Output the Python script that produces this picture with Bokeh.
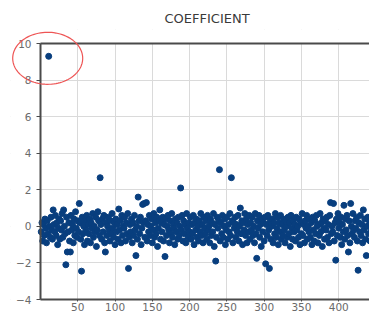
import numpy as np
from bokeh.plotting import figure
from bokeh.models import (ColumnDataSource, PolyAnnotation, BoxAnnotation, FixedTicker,
                          Range1d, LinearAxis)
from bokeh.embed import file_html
from bokeh.resources import INLINE

title_text = "COEFFICIENT"
x_ticks = [50, 100, 150, 200, 250, 300, 350, 400, 450]
y_ticks = [-4, -2, 0, 2, 4, 6, 8, 10]

coef = [
    -0.3, 0.2, -0.8, 0.1, -0.5, 0.4, -0.1, -0.9, 0.3, -0.4, 9.3, 0.0, -0.6, 0.5, -0.2, -0.7, 0.9, 0.1, -0.3, 0.6,
    -0.5, 0.2, -1.0, -0.1, 0.4, -0.7, 0.3, -0.2, 0.7, -0.6, 0.9, 0.0, -0.4, -2.1, 0.5, -1.4, -0.3, 0.2, -0.8, -1.4,
    0.6, -0.2, 0.1, -0.9, 0.4, -0.5, 0.8, -0.1, -0.6, 0.3, -0.3, 1.25, 0.2, -0.7, -2.45, 0.5, -0.4, 0.0, -1.0, 0.3,
    -0.2, 0.6, -0.8, 0.1, -0.4, 0.4, -0.9, 0.2, -0.1, 0.7, -0.6, 0.0, -0.3, 0.5, -1.1, -0.2, 0.8, 0.3, -0.5, 2.66,
    0.1, -0.7, 0.4, -0.3, 0.6, -0.9, -1.4, 0.2, -0.5, 0.0, 0.5, -0.2, -0.8, 0.3, -0.4, 0.7, -0.1, -0.6, 0.2, -1.0,
    0.4, -0.3, 0.1, -0.7, 0.95, -0.2, 0.3, -0.9, 0.6, -0.5, 0.0, -0.1, 0.5, -0.8, 0.2, -0.4, 0.7, -2.3, -0.6, 0.1,
    -0.3, 0.4, -0.9, 0.2, -0.5, 0.6, -0.2, -1.6, 0.0, -0.7, 1.6, 0.3, -0.4, 0.5, -1.0, -0.1, 1.2, 0.2, 1.25, -0.6,
    0.3, 1.3, -0.8, 0.1, -0.3, 0.6, -0.5, 0.0, 0.4, -0.9, -0.2, 0.7, -0.6, 0.2, -0.4, 0.5, -1.1, -0.1, 0.3, 0.9,
    -0.7, 0.2, -0.3, 0.5, -0.8, 0.1, -1.65, 0.4, -0.5, 0.0, 0.6, -0.2, -0.9, 0.3, -0.4, 0.7, -0.6, 0.1, -0.1, -1.0,
    0.4, -0.3, 0.2, -0.7, 0.5, -0.5, 0.0, 2.1, -0.2, 0.6, -0.8, 0.3, -0.4, 0.1, -0.9, 0.7, -0.1, -0.6, 0.2, -0.3,
    0.5, -0.7, 0.1, -0.4, 0.6, -1.0, 0.2, -0.2, 0.4, -0.6, 0.0, -0.8, 0.3, -0.3, 0.7, -0.5, 0.1, -0.9, 0.5, -0.1,
    -0.4, 0.3, -0.7, 0.6, -0.2, 0.0, -0.9, 0.4, -0.5, 0.2, -0.3, 0.7, -1.1, 0.1, -1.9, -0.6, 0.5, -0.1, 0.3, 3.1,
    -0.8, 0.2, -0.4, 0.6, -0.6, 0.0, 0.4, -1.0, -0.2, 0.5, -0.7, 0.1, -0.3, 0.7, -0.5, 2.66, 0.3, -0.9, 0.2, -0.1,
    0.5, -0.6, 0.1, -0.3, 0.6, -0.8, 0.0, 1.0, -0.4, 0.3, -1.0, 0.2, -0.2, 0.7, -0.5, 0.4, -0.9, 0.1, -0.3, 0.6,
    -0.7, 0.2, -0.2, 0.5, -0.5, 0.0, -0.9, 0.7, -0.4, -1.75, 0.3, -0.1, 0.6, -0.6, 0.1, -1.1, 0.4, -0.3, 0.2, -0.8,
    0.5, -2.05, 0.1, -0.5, 0.6, -0.2, -2.3, 0.3, -0.7, 0.0, 0.4, -0.9, 0.2, -0.4, 0.7, -0.6, -0.1, 0.5, -1.0, 0.2,
    -0.3, 0.6, -0.7, 0.1, -0.5, 0.4, -0.2, -0.9, 0.3, 0.0, -0.6, 0.5, -0.4, 0.2, -1.1, 0.6, -0.1, -0.7, 0.3, -0.3,
    0.1, -0.8, 0.5, -0.2, 0.0, -0.6, 0.4, -1.0, 0.2, -0.4, 0.7, -0.5, 0.1, -0.9, 0.3, -0.1, 0.6, -0.7, 0.0, -0.3,
    0.4, -0.6, 0.2, -1.0, 0.5, -0.2, -0.8, 0.3, -0.4, 0.6, 0.0, -0.9, 0.1, -0.5, 0.7, -0.3, 0.2, -1.1, 0.4, -0.1,
    -0.7, 0.3, -0.2, 0.5, -0.6, 0.1, -0.9, 0.6, 1.3, -0.4, 0.0, -0.3, 1.25, -0.8, 0.2, -1.85, 0.4, -0.5, 0.7, -0.1,
    0.2, -0.6, 0.5, -1.0, 0.1, -0.3, 1.15, -0.7, 0.4, -0.2, 0.6, -0.5, -1.4, 0.3, -0.9, 1.25, 0.0, -0.4, 0.7, -0.2,
    -0.6, 0.3, -0.1, 0.5, -0.8, -2.4, 0.2, -0.3, 0.6, -0.5, 0.1, -0.9, 0.9, -0.2, 0.4, -0.7, -1.6, 0.0, 0.5, -0.4,
    0.3, -0.8, 0.1, -0.2, 0.6, -0.5, 0.0, -1.0, 0.4, -0.3, 0.2, -0.6, 0.5, -0.1, -0.7, 0.3, -0.4, 0.6, -0.9, 0.1,
]
index = list(range(1, len(coef) + 1))
highlight_index = 11  # the circled outlier

src = ColumnDataSource(dict(x=index, y=coef))

# layout (pixels)
W, H = 369, 312
frame_l, frame_t = 10, 29            # frame edges inside the canvas
axis_x_px, top_y_px, bot_y_px = 40, 43, 299   # where x=0, y=10, y=-4 fall
x_lo = 0
y_lo, y_hi = y_ticks[0], y_ticks[-1]
px_per_x = 337 / 452
px_per_y = (bot_y_px - top_y_px) / (y_hi - y_lo)
x_start = x_lo - (axis_x_px - frame_l) / px_per_x
x_end = x_lo + (W - axis_x_px) / px_per_x
y_end = y_hi + (top_y_px - frame_t) / px_per_y
y_start = y_lo - (H - bot_y_px) / px_per_y

p = figure(width=W, height=H, output_backend="svg", toolbar_location=None,
           x_range=Range1d(x_start, x_end), y_range=Range1d(y_start, y_end),
           min_border_left=frame_l, min_border_right=0, min_border_top=frame_t,
           min_border_bottom=0)
p.title.text = title_text
p.title.align = "left"
p.title.offset = 154
p.title.text_font = "DejaVu Sans"
p.title.text_font_size = "13px"
p.title.text_font_style = "normal"
p.title.text_color = "#3a3a3a"
p.title.standoff = 8

p.xgrid.ticker = FixedTicker(ticks=x_ticks)
p.ygrid.ticker = FixedTicker(ticks=y_ticks)
p.grid.grid_line_color = "#dadada"
p.grid.grid_line_width = 1

# white masks so the grid stays inside the data area
for kw in (dict(right=x_lo), dict(bottom=y_hi), dict(top=y_lo)):
    p.add_layout(BoxAnnotation(fill_color="white", fill_alpha=1, line_color=None,
                               level="underlay", **kw))

p.scatter("x", "y", source=src, size=6, marker="circle",
          fill_color="#083e7e", line_color="#083e7e")

# red ellipse around the outlier
cx = index[highlight_index - 1]
cy = coef[highlight_index - 1]
t = np.linspace(0, 2 * np.pi, 100)
ex = cx + (35 / px_per_x) * np.cos(t) - 1.0 / px_per_x
ey = cy + (26 / px_per_y) * np.sin(t) - 2 / px_per_y
p.add_layout(PolyAnnotation(xs=list(ex), ys=list(ey), fill_alpha=0, level="overlay",
                            line_color="#ee5555", line_alpha=1.0, line_width=1.2))

bottom_axis = p.xaxis[0]
left_axis = p.yaxis[0]
bottom_axis.fixed_location = y_lo
bottom_axis.bounds = (x_lo, x_end)
left_axis.fixed_location = x_lo
left_axis.bounds = (y_lo, y_hi)

for ax in (bottom_axis, left_axis):
    ax.axis_line_color = "#4a4a4a"
    ax.axis_line_width = 2
    ax.major_tick_line_color = "#4a4a4a"
    ax.major_tick_in = 0
    ax.minor_tick_line_color = None
    ax.major_label_text_font = "DejaVu Sans"
    ax.major_label_text_font_size = "10.5px"
    ax.major_label_text_color = "#6a6a6a"
bottom_axis.ticker = FixedTicker(ticks=x_ticks)
left_axis.ticker = FixedTicker(ticks=y_ticks)
bottom_axis.major_tick_out = 2
bottom_axis.major_label_standoff = 1
left_axis.major_tick_out = 4
left_axis.major_label_standoff = 5

top_axis = LinearAxis(fixed_location=y_hi, bounds=(x_lo, x_end),
                      major_tick_line_color=None, minor_tick_line_color=None,
                      major_label_text_color=None, axis_line_color="#4a4a4a",
                      axis_line_width=2)
p.add_layout(top_axis, "above")

p.outline_line_color = None
p.background_fill_color = "white"
p.border_fill_color = "white"

open("out.html", "w").write(file_html(p, INLINE))
